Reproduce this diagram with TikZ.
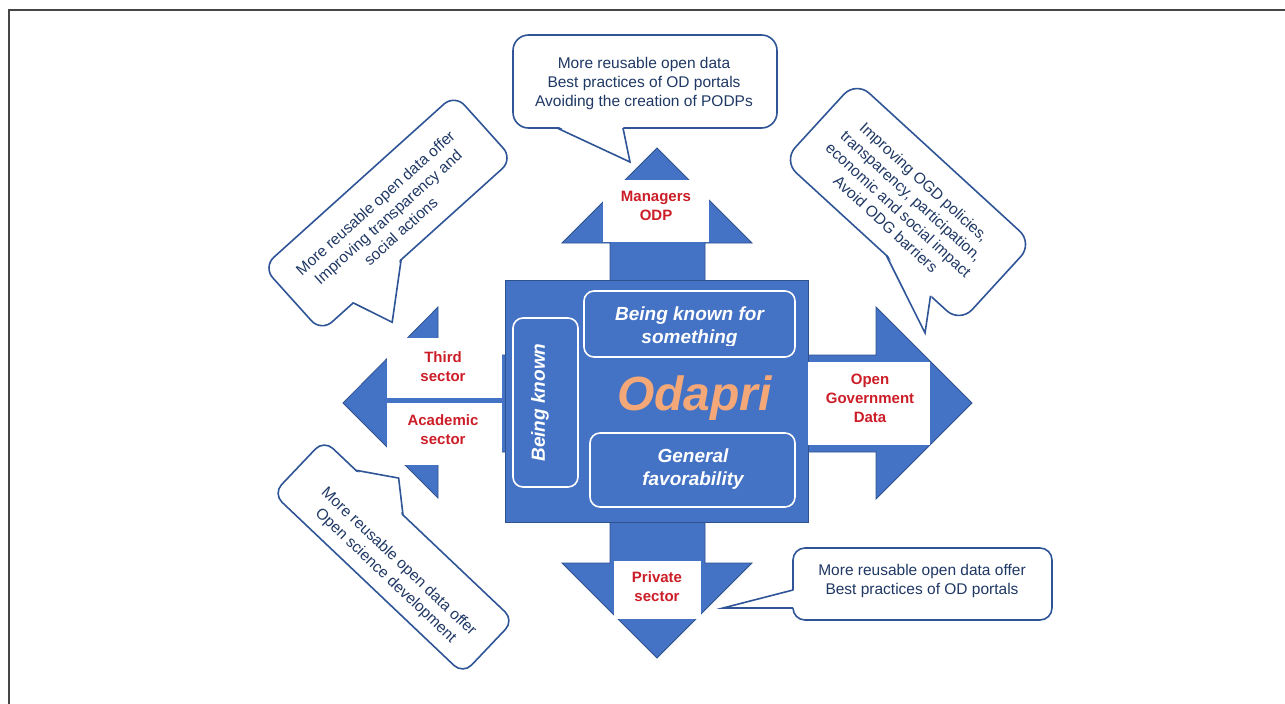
\documentclass[tikz,border=0pt]{standalone}
\usepackage{fontspec}
\setmainfont{Liberation Sans}
\definecolor{odpblue}{RGB}{68,114,196}
\definecolor{odpedge}{RGB}{47,82,143}
\definecolor{odpred}{RGB}{204,30,40}
\definecolor{odpnavy}{RGB}{31,56,100}
\definecolor{odporange}{RGB}{244,168,120}
\definecolor{bubbleedge}{RGB}{47,85,151}
\definecolor{framegray}{RGB}{70,70,70}
\tikzset{arrowshape/.style = {fill = odpblue, draw = odpedge, line width = 0.8}}
\tikzset{sector/.style = {text = odpred, font = \fontsize{15}{19}\selectfont\bfseries, align = center, inner sep = 0}}
\tikzset{facet/.style = {draw = white, line width = 1.6, rounded corners = 10}}
\tikzset{facettext/.style = {text = white, font = \fontsize{19}{23}\selectfont\bfseries\itshape, align = center, inner sep = 0}}
\tikzset{bubbleline/.style = {draw = bubbleedge, line width = 1.6}}
\tikzset{bubbletext/.style = {text = odpnavy, font = \fontsize{15.5}{19}\selectfont, align = center, inner sep = 0}}
% rounded box with a wedge on its lower side: width, height, radius, wedge base from/to, wedge tip
\newcommand{\bubble}[7]{%
  \filldraw [bubbleline, fill = white, rounded corners = #3] (-#1/2, -#2/2) rectangle (#1/2, #2/2);
  \fill [white] (#4, #2/2 - 2) -- (#6, #7) -- (#5, #2/2 - 2) -- cycle;
  \draw [bubbleline] (#4, #2/2) -- (#6, #7) -- (#5, #2/2);
}

\begin{document}
\begin{tikzpicture}[x = 1pt, y = -1pt]
  \useasboundingbox (0, 0) rectangle (1285, 704);
  \draw [framegray, line width = 1.5] (9, 704) -- (9, 10) -- (1285, 10);

  % the four arrows and the core
  \draw [arrowshape] (610, 300) -- (610, 243) -- (562, 243) -- (657, 148) -- (752, 243) -- (705, 243) -- (705, 300) -- cycle;
  \draw [arrowshape] (610, 500) -- (610, 563) -- (562, 563) -- (657, 658) -- (752, 563) -- (705, 563) -- (705, 500) -- cycle;
  \draw [arrowshape] (520, 355) -- (438, 355) -- (438, 307) -- (343, 403) -- (438, 498) -- (438, 452) -- (520, 452) -- cycle;
  \draw [arrowshape] (790, 355) -- (876, 355) -- (876, 307) -- (972, 403) -- (876, 499) -- (876, 452) -- (790, 452) -- cycle;
  \draw [arrowshape] (505, 280) rectangle (808, 522);

  \fill [white] (603, 180) rectangle (709, 242);
  \fill [white] (614, 561) rectangle (701, 619);
  \fill [white] (808, 362) rectangle (930, 445);
  \fill [white] (387, 338) rectangle (502, 398);
  \fill [white] (387, 403) rectangle (502, 465);

  \node [sector] (managers) at (656, 206) {Managers\\ODP};
  \node [sector] (private) at (657, 587) {Private\\sector};
  \node [sector] (ogd) at (870, 398) {Open\\Government\\Data};
  \node [sector] (third) at (443, 367) {Third\\sector};
  \node [sector] (academic) at (443, 430) {Academic\\sector};

  \draw [facet] (584, 291) rectangle (795, 357);
  \draw [facet] (590, 433) rectangle (795, 507);
  \draw [facet] (513, 318) rectangle (578, 487);
  \begin{scope}
    \clip (584, 291) rectangle (795, 345.5);
    \node [facettext] (knownfor) at (689.5, 327.5) {Being known for\\something};
  \end{scope}
  \node [facettext] (favour) at (693, 469) {General\\favorability};
  \node [facettext, rotate = 90] (known) at (540, 402.5) {Being known};
  \node [text = odporange, font = \fontsize{48}{48}\selectfont\bfseries\itshape, anchor = base, inner sep = 0] (odapri) at (694.5, 410) {Odapri};

  % callouts
  \begin{scope}[shift = {(645, 81.5)}]
    \bubble{264}{93}{15.5}{-88}{-22}{-15}{80.5}
  \end{scope}
  \node [bubbletext] (managersnote) at (644, 83) {More reusable open data\\Best practices of OD portals\\Avoiding the creation of PODPs};

  \begin{scope}[shift = {(922.5, 584)}, rotate = -90]
    \bubble{72}{259}{12}{6}{24}{24}{199.5}
  \end{scope}
  \node [bubbletext] (privatenote) at (922, 580.5) {More reusable open data offer\\Best practices of OD portals};

  \begin{scope}[shift = {(908, 202)}, rotate = -42.5]
    \bubble{240}{108}{18}{20}{80}{101}{85}
  \end{scope}
  \node [bubbletext, rotate = -42.5] (ogdnote) at (905, 203) {Improving OGD policies,\\transparency, participation,\\economic and social impact\\Avoid ODG barriers};

  \begin{scope}[shift = {(388, 213)}, rotate = 42]
    \bubble{258}{87}{14.5}{-86}{-21.5}{-70}{84}
  \end{scope}
  \node [bubbletext, rotate = 42] (thirdnote) at (388, 217) {More reusable open data offer\\Improving transparency and\\social actions};

  \begin{scope}[shift = {(393.5, 557)}, rotate = 136.5]
    \bubble{262}{74}{12.3}{22}{87}{50.6}{60.8}
  \end{scope}
  \node [bubbletext, rotate = -43.5] (academicnote) at (392, 569) {More reusable open data offer\\Open science development};
\end{tikzpicture}
\end{document}
